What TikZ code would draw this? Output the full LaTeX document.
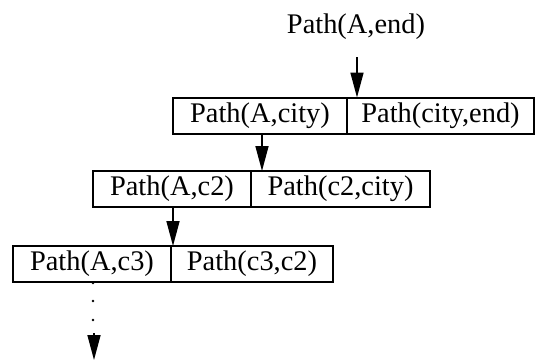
\documentclass[tikz,border=0pt]{standalone}
\usepackage{fontspec}
\setmainfont{Liberation Serif}
\usetikzlibrary{arrows.meta}
\tikzset{
  cell/.style={draw, line width=1pt, inner sep=0pt, outer sep=0pt,
    minimum height=18pt, font=\fontsize{14.2}{17}\selectfont},
  conn/.style={line width=0.8pt, -{Triangle[length=12.5pt,width=6.5pt]}},
  lbl/.style={inner sep=0pt, font=\fontsize{14.2}{17}\selectfont},
  dotmark/.style={circle, fill, inner sep=0pt, minimum size=1.4pt}
}
\begin{document}
\begin{tikzpicture}[x=0.5pt,y=0.5pt]
\useasboundingbox (0,0) rectangle (537,360);
% top label
\node[lbl, anchor=base] (top) at (356,327) {Path(A,end)};
\coordinate (a1) at (357,303);
% box 1
\node[cell, minimum width=87pt] (b1l) at (260,244.5) {Path(A,city)};
\node[cell, minimum width=93.5pt, anchor=west] (b1r) at (b1l.east) {Path(city,end)};
% box 2
\node[cell, minimum width=79pt] (b2l) at (172,171) {Path(A,c2)};
\node[cell, minimum width=89.5pt, anchor=west] (b2r) at (b2l.east) {Path(c2,city)};
% box 3
\node[cell, minimum width=79pt] (b3l) at (92,96) {Path(A,c3)};
\node[cell, minimum width=81pt, anchor=west] (b3r) at (b3l.east) {Path(c3,c2)};
% connectors
\draw[conn] (a1) -- (a1 |- b1r.north);
\draw[conn] ([xshift=1pt]b1l.south) -- ([xshift=1pt]b1l.south |- b2l.north);
\draw[conn] ([xshift=0.5pt]b2l.south) -- ([xshift=0.5pt]b2l.south |- b3l.north);
% dots and final arrow
\node[dotmark] (d1) at (93,77) {};
\node[dotmark] (d2) at (93,59) {};
\node[dotmark] (d3) at (93,40) {};
\coordinate (e0) at (94,27);
\coordinate (e1) at (94,0);
\draw[conn] (e0) -- (e1);
\end{tikzpicture}
\end{document}
